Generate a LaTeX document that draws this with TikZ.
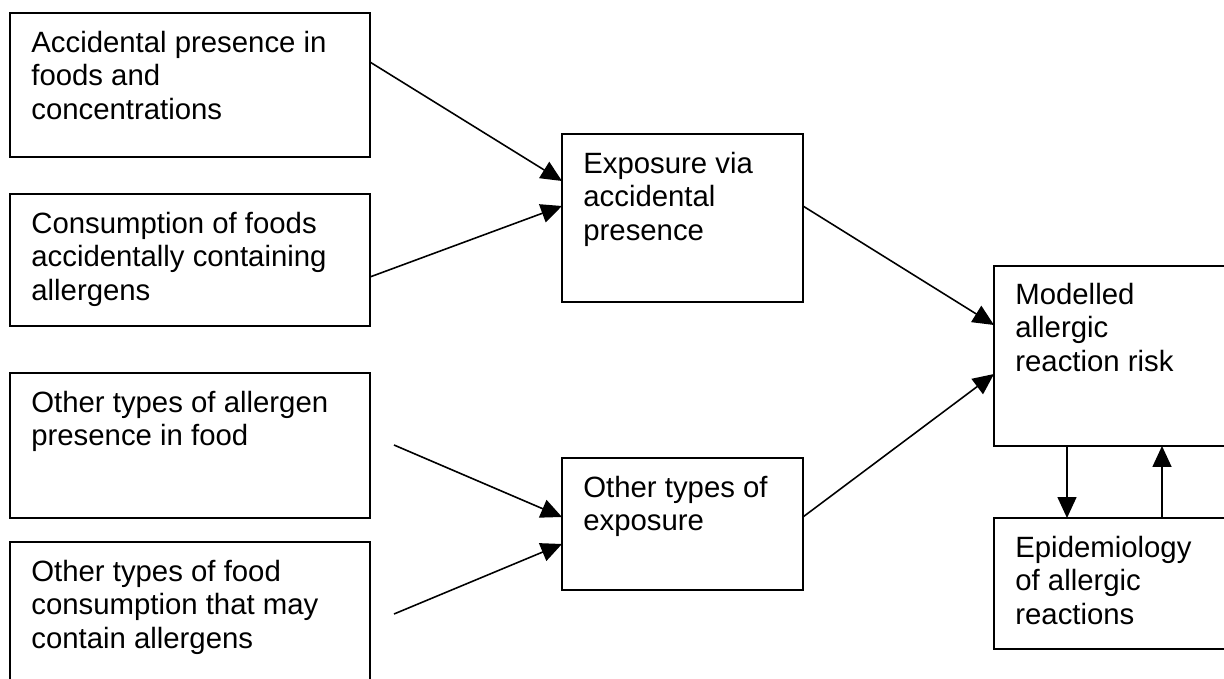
\documentclass[tikz,border=0pt]{standalone}
\usepackage{fontspec}
\setmainfont{Liberation Sans}
\usetikzlibrary{arrows.meta,positioning}

\begin{document}
\begin{tikzpicture}[x=0.02cm, y=-0.02cm,
    box/.style={draw, line width=0.9pt, anchor=north west, inner sep=0pt, outer sep=0pt},
    txt/.style={align=left, inner sep=0pt, font=\fontsize{16.7}{19}\selectfont},
    arr/.style={line width=0.9pt, -{Triangle[length=0.42cm, width=0.38cm]}}]
  \useasboundingbox (0,0) rectangle (1224,679);
  % Input boxes on the left
  \node[box, minimum width=7.2cm, minimum height=2.88cm] (acc) at (10,13) {};
  \node[box, minimum width=7.2cm, minimum height=2.64cm] (cons) at (10,194) {};
  \node[box, minimum width=7.2cm, minimum height=2.9cm] (oth) at (10,373) {};
  \node[box, minimum width=7.2cm, minimum height=3.16cm] (othfood) at (10,542) {};
  % Exposure boxes
  \node[box, minimum width=4.82cm, minimum height=3.36cm] (expacc) at (562,134) {};
  \node[box, minimum width=4.82cm, minimum height=2.64cm] (expoth) at (562,458) {};
  % Risk and epidemiology
  \node[box, minimum width=4.8cm, minimum height=3.6cm] (risk) at (994,266) {};
  \node[box, minimum width=4.8cm, minimum height=2.62cm] (epi) at (994,518) {};
  % Texts
  \node[txt, below right=0.36cm and 0.42cm of acc.north west] (acc-t) {Accidental presence in\\foods and\\concentrations};
  \node[txt, below right=0.36cm and 0.42cm of cons.north west] (cons-t) {Consumption of foods\\accidentally containing\\allergens};
  \node[txt, below right=0.36cm and 0.42cm of oth.north west] (oth-t) {Other types of allergen\\presence in food};
  \node[txt, below right=0.36cm and 0.42cm of othfood.north west] (othfood-t) {Other types of food\\consumption that may\\contain allergens};
  \node[txt, below right=0.36cm and 0.42cm of expacc.north west] (expacc-t) {Exposure via\\accidental\\presence};
  \node[txt, below right=0.36cm and 0.42cm of expoth.north west] (expoth-t) {Other types of\\exposure};
  \node[txt, below right=0.34cm and 0.42cm of risk.north west] (risk-t) {Modelled\\allergic\\reaction risk};
  \node[txt, below right=0.36cm and 0.42cm of epi.north west] (epi-t) {Epidemiology\\of allergic\\reactions};
  % Free starts of the lower arrows
  \coordinate (oth-out) at (394,445);
  \coordinate (othfood-out) at (394,614);
  % Arrows
  \draw[arr] (acc.east |- 0,62) -- (expacc.west |- 0,181);
  \draw[arr] (cons.east |- 0,277) -- (expacc.west |- 0,206);
  \draw[arr] (oth-out) -- (expoth.west |- 0,517);
  \draw[arr] (othfood-out) -- (expoth.west |- 0,544);
  \draw[arr] (expacc.east |- 0,206) -- (risk.west |- 0,325);
  \draw[arr] (expoth.east |- 0,517) -- (risk.west |- 0,374);
  \draw[arr] (risk.south -| 1067,0) -- (epi.north -| 1067,0);
  \draw[arr] (epi.north -| 1162,0) -- (risk.south -| 1162,0);
\end{tikzpicture}
\end{document}
